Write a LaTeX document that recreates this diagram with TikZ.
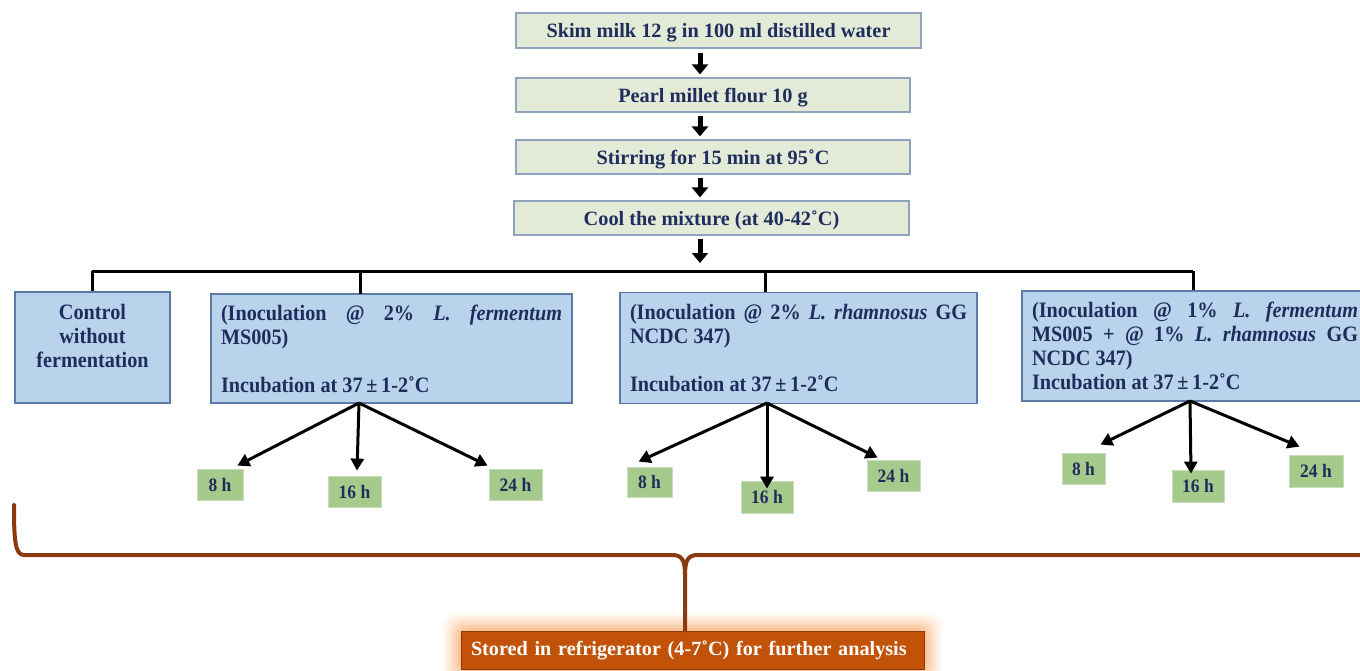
\documentclass[tikz,border=0pt]{standalone}
\usepackage{fontspec}
\setmainfont{Liberation Serif}
\newfontfamily\tallf[FakeStretch=0.92]{Liberation Serif}
\usetikzlibrary{arrows.meta}
\definecolor{navy}{HTML}{1F2D5C}
\definecolor{topfill}{HTML}{E3EBD8}
\definecolor{topdraw}{HTML}{8FA3BF}
\definecolor{bluefill}{HTML}{B9D3EC}
\definecolor{bluedraw}{HTML}{5A7BA6}
\definecolor{greenfill}{HTML}{A6C98C}
\definecolor{greendraw}{HTML}{C9DDBA}
\definecolor{brace}{HTML}{8B3A0F}
\definecolor{storefill}{HTML}{C25208}
\definecolor{glow}{HTML}{F9A868}
\tikzset{
  topbox/.style={draw=topdraw, line width=1.2pt, fill=topfill, inner sep=0pt, text depth=0pt,
    text=navy, font=\fontsize{20.3}{24}\selectfont\bfseries},
  bluebox/.style={draw=bluedraw, line width=1.2pt, fill=bluefill, inner xsep=10pt, inner ysep=0pt,
    text=navy, font=\tallf\fontsize{22}{24}\selectfont\bfseries},
  greenbox/.style={draw=greendraw, line width=0.8pt, fill=greenfill, inner sep=0pt,
    text=navy, font=\tallf\fontsize{19}{20}\selectfont\bfseries},
  bigarrow/.style={draw=black, line width=5pt, -{Triangle[length=10pt,width=16pt]}},
  thinarrow/.style={draw=black, line width=3pt, -{Triangle[length=12pt,width=13pt]}},
  bar/.style={draw=black, line width=3pt},
  bracestyle/.style={draw=brace, line width=4pt, line cap=round}
}
\begin{document}
\begin{tikzpicture}[x=1pt,y=-1pt]
\useasboundingbox (0,0) rectangle (1360,671);
% top boxes
\node[topbox, minimum width=405pt, minimum height=35pt] (t1) at (718.5,30.5) {Skim milk 12 g in 100 ml distilled water};
\node[topbox, minimum width=394pt, minimum height=34pt] (t2) at (713,95) {Pearl millet flour 10 g};
\node[topbox, minimum width=394pt, minimum height=34pt] (t3) at (713,157) {Stirring for 15 min at 95˚C};
\node[topbox, minimum width=395pt, minimum height=34pt] (t4) at (711.5,218) {Cool the mixture (at 40-42˚C)};
\coordinate (ax) at (700,0);
\draw[bigarrow] ([yshift=-4pt]t1.south -| ax) -- ([yshift=3pt]t2.north -| ax);
\draw[bigarrow] ([yshift=-3pt]t2.south -| ax) -- ([yshift=3pt]t3.north -| ax);
\draw[bigarrow] ([yshift=-3pt]t3.south -| ax) -- ([yshift=3pt]t4.north -| ax);
\coordinate (bus) at (700,271);
\draw[bigarrow] ([yshift=-3pt]t4.south -| ax) -- ([yshift=8pt]bus);
% branch boxes
\node[bluebox, align=center, text width=135pt, minimum height=111pt] (ctrl) at (92.5,347.5) {\strut\\[-18pt]Control\\without\\fermentation\\\strut};
\node[bluebox, align=justify, text width=341pt, minimum height=109pt] (A) at (391.5,348.5)
  {(Inoculation @ 2\% \textit{L. fermentum}\linebreak MS005)\\\strut\\Incubation at 37\,±\,1-2˚C};
\node[bluebox, align=justify, text width=337pt, minimum height=111pt] (B) at (798.5,348)
  {(Inoculation @ 2\% \textit{L. rhamnosus} GG\linebreak NCDC 347)\\\strut\\Incubation at 37\,±\,1-2˚C};
\node[bluebox, align=justify, text width=326pt, minimum height=110pt] (C) at (1195,346)
  {(Inoculation @ 1\% \textit{L. fermentum}\linebreak MS005 + @ 1\% \textit{L. rhamnosus} GG\linebreak NCDC 347)\\Incubation at 37\,±\,1-2˚C};
% bus line
\coordinate (busL) at (92,271);
\coordinate (busR) at (1193,271);
\draw[bar] (busL) -- (busR);
\draw[bar] (busL) -- (busL |- ctrl.north);
\draw[bar] (360,271) -- (360,294);
\draw[bar] (765,271) -- (765,292);
\draw[bar] (busR) -- (busR |- C.north);
% time boxes
\node[greenbox, minimum width=46pt, minimum height=31pt] (A8) at (220,484.5) {8 h};
\node[greenbox, minimum width=53pt, minimum height=31pt] (A16) at (354.5,491.5) {16 h};
\node[greenbox, minimum width=53pt, minimum height=31pt] (A24) at (515.5,484.5) {24 h};
\node[greenbox, minimum width=45pt, minimum height=30pt] (B8) at (649.5,482) {8 h};
\node[greenbox, minimum width=52pt, minimum height=32pt] (B16) at (767,497) {16 h};
\node[greenbox, minimum width=53pt, minimum height=31pt] (B24) at (893.5,475.5) {24 h};
\node[greenbox, minimum width=43pt, minimum height=31pt] (C8) at (1083.5,468.5) {8 h};
\node[greenbox, minimum width=52pt, minimum height=32pt] (C16) at (1198,486) {16 h};
\node[greenbox, minimum width=54pt, minimum height=32pt] (C24) at (1316,471) {24 h};
% arrows
\coordinate (oA) at (359,403);
\coordinate (oB) at (767,403);
\coordinate (oC) at (1190,401);
\draw[thinarrow] (oA) -- ([shift={(-6,-3)}]A8.north east);
\draw[thinarrow] (oA) -- ([yshift=5pt]A16.north -| 357,0);
\draw[thinarrow] (oA) -- ([shift={(-1,-3)}]A24.north west);
\draw[thinarrow] (oB) -- ([shift={(12,-5)}]B8.north west);
\draw[thinarrow] (oB) -- ([yshift=-8pt]B16.north -| oB);
\draw[thinarrow] (oB) -- ([shift={(11,-2)}]B24.north west);
\draw[thinarrow] (oC) -- ([shift={(-5,-8)}]C8.north east);
\draw[thinarrow] (oC) -- ([yshift=-4pt]C16.north -| 1191,0);
\draw[thinarrow] (oC) -- ([shift={(11,-8)}]C24.north west);
% stored box with glow
\foreach \g/\o in {18/0.08,15/0.10,12/0.14,9/0.18,6/0.24,3/0.32}{
  \fill[glow, opacity=\o, rounded corners=12pt] (461-\g,631-\g) rectangle (924+\g,669+\g);
}
\node[draw=brace, line width=1pt, fill=storefill, minimum width=463pt, minimum height=38pt, inner xsep=10pt, inner ysep=0pt,
  text width=443pt, align=left,
  text=white, font=\fontsize{20.2}{24}\selectfont\bfseries] (S) at (692.5,650) {Stored in refrigerator (4-7˚C) for further analysis};
% brace
\coordinate (bL) at (14,505);
\coordinate (bR) at (1362,555);
\draw[bracestyle] (bL) .. controls (14,540) and (15,555) .. (24,555) -- (672,555)
  .. controls (682,555) and (685,560) .. (685,575) -- (S.north -| 685,0);
\draw[bracestyle] (bR) -- (698,555) .. controls (688,555) and (685,560) .. (685,575);
\end{tikzpicture}
\end{document}
